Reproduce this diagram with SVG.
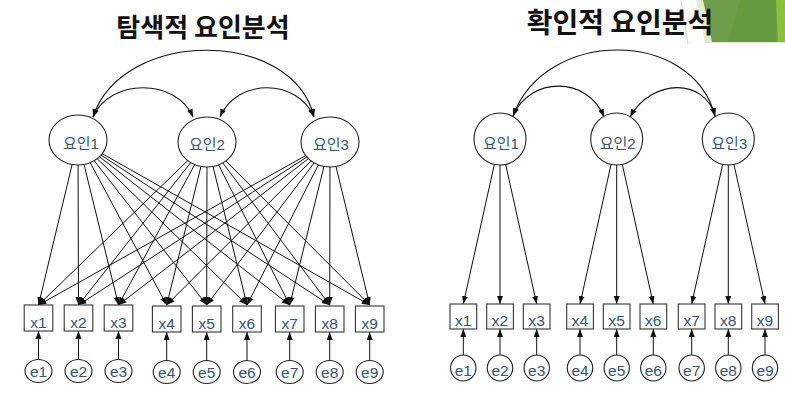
<svg xmlns="http://www.w3.org/2000/svg" width="785" height="399" viewBox="0 0 785 399">
<style>
.title{font-family:"Noto Sans CJK KR","Liberation Sans",sans-serif;font-weight:bold;fill:#111;text-anchor:middle}
.lbl{font-family:"Liberation Sans","Noto Sans CJK KR",sans-serif;font-size:15.5px;fill:#3a5275;text-anchor:middle}
.fl{font-family:"Liberation Sans","Noto Sans CJK KR",sans-serif;font-size:15px;fill:#3a5275;text-anchor:middle}
.node{fill:#fff;stroke:#222;stroke-width:1.1}
.box{fill:#fff;stroke:#333;stroke-width:1.1}
.con{fill:none;stroke:#111;stroke-width:1}
.arc{fill:none;stroke:#111;stroke-width:1.1}
</style>
<defs>
<marker id="ah" viewBox="0 0 8 6" refX="8" refY="3" markerWidth="8" markerHeight="6.5" markerUnits="userSpaceOnUse" orient="auto-start-reverse">
<path d="M0,0 L8,3 L0,6 z" fill="#111"/>
</marker>
</defs>
<rect width="785" height="399" fill="#fff"/>
<g id="decor">
<line x1="681" y1="0" x2="688" y2="44" stroke="#c8c8c8" stroke-width="0.8"/>
<polygon points="696,0 785,0 785,43 705,43" fill="#e2ebcf"/>
<polygon points="703,0 785,0 785,42 712,42" fill="#6f9d4c"/>
<polygon points="740,0 776,0 776,42 728,42" fill="#669a3f"/>
<polygon points="776,0 785,0 785,42 778,42" fill="#8cbf3a"/>
</g>
<text class="title" x="203" y="37" font-size="26">탐색적 요인분석</text>
<text class="title" x="620" y="33" font-size="28">확인적 요인분석</text>
<g id="connectors">
<g class="con">
<line x1="78" y1="140" x2="38.5" y2="305" marker-end="url(#ah)"/>
<line x1="78" y1="140" x2="78.5" y2="305" marker-end="url(#ah)"/>
<line x1="78" y1="140" x2="118.5" y2="305" marker-end="url(#ah)"/>
<line x1="78" y1="140" x2="166.7" y2="305" marker-end="url(#ah)"/>
<line x1="78" y1="140" x2="206.7" y2="305" marker-end="url(#ah)"/>
<line x1="78" y1="140" x2="247" y2="305" marker-end="url(#ah)"/>
<line x1="78" y1="140" x2="289.7" y2="305" marker-end="url(#ah)"/>
<line x1="78" y1="140" x2="329.7" y2="305" marker-end="url(#ah)"/>
<line x1="78" y1="140" x2="369.7" y2="305" marker-end="url(#ah)"/>
<line x1="207" y1="142" x2="38.5" y2="305" marker-end="url(#ah)"/>
<line x1="207" y1="142" x2="78.5" y2="305" marker-end="url(#ah)"/>
<line x1="207" y1="142" x2="118.5" y2="305" marker-end="url(#ah)"/>
<line x1="207" y1="142" x2="166.7" y2="305" marker-end="url(#ah)"/>
<line x1="207" y1="142" x2="206.7" y2="305" marker-end="url(#ah)"/>
<line x1="207" y1="142" x2="247" y2="305" marker-end="url(#ah)"/>
<line x1="207" y1="142" x2="289.7" y2="305" marker-end="url(#ah)"/>
<line x1="207" y1="142" x2="329.7" y2="305" marker-end="url(#ah)"/>
<line x1="207" y1="142" x2="369.7" y2="305" marker-end="url(#ah)"/>
<line x1="330" y1="142" x2="38.5" y2="305" marker-end="url(#ah)"/>
<line x1="330" y1="142" x2="78.5" y2="305" marker-end="url(#ah)"/>
<line x1="330" y1="142" x2="118.5" y2="305" marker-end="url(#ah)"/>
<line x1="330" y1="142" x2="166.7" y2="305" marker-end="url(#ah)"/>
<line x1="330" y1="142" x2="206.7" y2="305" marker-end="url(#ah)"/>
<line x1="330" y1="142" x2="247" y2="305" marker-end="url(#ah)"/>
<line x1="330" y1="142" x2="289.7" y2="305" marker-end="url(#ah)"/>
<line x1="330" y1="142" x2="329.7" y2="305" marker-end="url(#ah)"/>
<line x1="330" y1="142" x2="369.7" y2="305" marker-end="url(#ah)"/>
<line x1="38.5" y1="371" x2="38.5" y2="331" marker-end="url(#ah)"/>
<line x1="78.5" y1="371" x2="78.5" y2="331" marker-end="url(#ah)"/>
<line x1="118.5" y1="371" x2="118.5" y2="331" marker-end="url(#ah)"/>
<line x1="166.7" y1="371" x2="166.7" y2="332" marker-end="url(#ah)"/>
<line x1="206.7" y1="371" x2="206.7" y2="332" marker-end="url(#ah)"/>
<line x1="247" y1="371" x2="247" y2="332" marker-end="url(#ah)"/>
<line x1="289.7" y1="371" x2="289.7" y2="332" marker-end="url(#ah)"/>
<line x1="329.7" y1="371" x2="329.7" y2="332" marker-end="url(#ah)"/>
<line x1="369.7" y1="371" x2="369.7" y2="332" marker-end="url(#ah)"/>
<line x1="500" y1="139" x2="463.3" y2="304" marker-end="url(#ah)"/>
<line x1="500" y1="139" x2="500" y2="304" marker-end="url(#ah)"/>
<line x1="500" y1="139" x2="536.7" y2="304" marker-end="url(#ah)"/>
<line x1="616.7" y1="139" x2="580" y2="304" marker-end="url(#ah)"/>
<line x1="616.7" y1="139" x2="616.7" y2="304" marker-end="url(#ah)"/>
<line x1="616.7" y1="139" x2="653.3" y2="304" marker-end="url(#ah)"/>
<line x1="728.3" y1="139" x2="691.7" y2="304" marker-end="url(#ah)"/>
<line x1="728.3" y1="139" x2="728.3" y2="304" marker-end="url(#ah)"/>
<line x1="728.3" y1="139" x2="765" y2="304" marker-end="url(#ah)"/>
<line x1="463.3" y1="368" x2="463.3" y2="329" marker-end="url(#ah)"/>
<line x1="500" y1="368" x2="500" y2="329" marker-end="url(#ah)"/>
<line x1="536.7" y1="368" x2="536.7" y2="329" marker-end="url(#ah)"/>
<line x1="580" y1="368" x2="580" y2="329" marker-end="url(#ah)"/>
<line x1="616.7" y1="368" x2="616.7" y2="329" marker-end="url(#ah)"/>
<line x1="653.3" y1="368" x2="653.3" y2="329" marker-end="url(#ah)"/>
<line x1="691.7" y1="368" x2="691.7" y2="329" marker-end="url(#ah)"/>
<line x1="728.3" y1="368" x2="728.3" y2="329" marker-end="url(#ah)"/>
<line x1="765" y1="368" x2="765" y2="329" marker-end="url(#ah)"/>
</g>
<g class="arc">
<path d="M93,117 C122,28 293,28 314,117" marker-start="url(#ah)" marker-end="url(#ah)"/>
<path d="M93,117 C110,78 176,78 193,117" marker-start="url(#ah)" marker-end="url(#ah)"/>
<path d="M220,117 C237,78 297,78 314,117" marker-start="url(#ah)" marker-end="url(#ah)"/>
<path d="M513,116 C545,28 692,28 715,116" marker-start="url(#ah)" marker-end="url(#ah)"/>
<path d="M513,116 C530,76 588,76 604,117" marker-start="url(#ah)" marker-end="url(#ah)"/>
<path d="M630,117 C652,78 705,78 715,116" marker-start="url(#ah)" marker-end="url(#ah)"/>
</g>
</g>
<g id="L_F1"><ellipse class="node" cx="78" cy="140" rx="29" ry="25"/><text class="fl" x="81" y="149">요인1</text></g>
<g id="L_F2"><ellipse class="node" cx="207" cy="142" rx="29" ry="25"/><text class="fl" x="207" y="150">요인2</text></g>
<g id="L_F3"><ellipse class="node" cx="330" cy="142" rx="29" ry="25"/><text class="fl" x="331" y="150">요인3</text></g>
<g id="L_x1"><rect class="box" x="24.2" y="305" width="28.6" height="26"/><text class="lbl" x="38.5" y="328">x1</text></g>
<g id="L_x2"><rect class="box" x="64.2" y="305" width="28.6" height="26"/><text class="lbl" x="78.5" y="328">x2</text></g>
<g id="L_x3"><rect class="box" x="104.2" y="305" width="28.6" height="26"/><text class="lbl" x="118.5" y="328">x3</text></g>
<g id="L_x4"><rect class="box" x="152.4" y="306" width="28.6" height="26"/><text class="lbl" x="166.7" y="329">x4</text></g>
<g id="L_x5"><rect class="box" x="192.4" y="306" width="28.6" height="26"/><text class="lbl" x="206.7" y="329">x5</text></g>
<g id="L_x6"><rect class="box" x="232.7" y="306" width="28.6" height="26"/><text class="lbl" x="247" y="329">x6</text></g>
<g id="L_x7"><rect class="box" x="275.4" y="306" width="28.6" height="26"/><text class="lbl" x="289.7" y="329">x7</text></g>
<g id="L_x8"><rect class="box" x="315.4" y="306" width="28.6" height="26"/><text class="lbl" x="329.7" y="329">x8</text></g>
<g id="L_x9"><rect class="box" x="355.4" y="306" width="28.6" height="26"/><text class="lbl" x="369.7" y="329">x9</text></g>
<g id="L_e1"><ellipse class="node" cx="38.5" cy="371" rx="13.5" ry="11.5"/><text class="lbl" x="38.5" y="377">e1</text></g>
<g id="L_e2"><ellipse class="node" cx="78.5" cy="371" rx="13.5" ry="11.5"/><text class="lbl" x="78.5" y="377">e2</text></g>
<g id="L_e3"><ellipse class="node" cx="118.5" cy="371" rx="13.5" ry="11.5"/><text class="lbl" x="118.5" y="377">e3</text></g>
<g id="L_e4"><ellipse class="node" cx="166.7" cy="372" rx="13.5" ry="11.5"/><text class="lbl" x="166.7" y="378">e4</text></g>
<g id="L_e5"><ellipse class="node" cx="206.7" cy="372" rx="13.5" ry="11.5"/><text class="lbl" x="206.7" y="378">e5</text></g>
<g id="L_e6"><ellipse class="node" cx="247" cy="372" rx="13.5" ry="11.5"/><text class="lbl" x="247" y="378">e6</text></g>
<g id="L_e7"><ellipse class="node" cx="289.7" cy="372" rx="13.5" ry="11.5"/><text class="lbl" x="289.7" y="378">e7</text></g>
<g id="L_e8"><ellipse class="node" cx="329.7" cy="372" rx="13.5" ry="11.5"/><text class="lbl" x="329.7" y="378">e8</text></g>
<g id="L_e9"><ellipse class="node" cx="369.7" cy="372" rx="13.5" ry="11.5"/><text class="lbl" x="369.7" y="378">e9</text></g>
<g id="R_F1"><circle class="node" cx="500" cy="139" r="26"/><text class="fl" x="501" y="149">요인1</text></g>
<g id="R_F2"><circle class="node" cx="616.7" cy="139" r="26"/><text class="fl" x="617.7" y="149">요인2</text></g>
<g id="R_F3"><circle class="node" cx="728.3" cy="139" r="26"/><text class="fl" x="729.3" y="149">요인3</text></g>
<g id="R_x1"><rect class="box" x="450" y="304" width="26.7" height="25"/><text class="lbl" x="463.3" y="326">x1</text></g>
<g id="R_x2"><rect class="box" x="486.7" y="304" width="26.7" height="25"/><text class="lbl" x="500" y="326">x2</text></g>
<g id="R_x3"><rect class="box" x="523.3" y="304" width="26.7" height="25"/><text class="lbl" x="536.7" y="326">x3</text></g>
<g id="R_x4"><rect class="box" x="566.7" y="304" width="26.7" height="25"/><text class="lbl" x="580" y="326">x4</text></g>
<g id="R_x5"><rect class="box" x="603.3" y="304" width="26.7" height="25"/><text class="lbl" x="616.7" y="326">x5</text></g>
<g id="R_x6"><rect class="box" x="640" y="304" width="26.7" height="25"/><text class="lbl" x="653.3" y="326">x6</text></g>
<g id="R_x7"><rect class="box" x="678.3" y="304" width="26.7" height="25"/><text class="lbl" x="691.7" y="326">x7</text></g>
<g id="R_x8"><rect class="box" x="715" y="304" width="26.7" height="25"/><text class="lbl" x="728.3" y="326">x8</text></g>
<g id="R_x9"><rect class="box" x="751.7" y="304" width="26.7" height="25"/><text class="lbl" x="765" y="326">x9</text></g>
<g id="R_e1"><ellipse class="node" cx="463.3" cy="368" rx="12.7" ry="13"/><text class="lbl" x="463.3" y="376">e1</text></g>
<g id="R_e2"><ellipse class="node" cx="500" cy="368" rx="12.7" ry="13"/><text class="lbl" x="500" y="376">e2</text></g>
<g id="R_e3"><ellipse class="node" cx="536.7" cy="368" rx="12.7" ry="13"/><text class="lbl" x="536.7" y="376">e3</text></g>
<g id="R_e4"><ellipse class="node" cx="580" cy="368" rx="12.7" ry="13"/><text class="lbl" x="580" y="376">e4</text></g>
<g id="R_e5"><ellipse class="node" cx="616.7" cy="368" rx="12.7" ry="13"/><text class="lbl" x="616.7" y="376">e5</text></g>
<g id="R_e6"><ellipse class="node" cx="653.3" cy="368" rx="12.7" ry="13"/><text class="lbl" x="653.3" y="376">e6</text></g>
<g id="R_e7"><ellipse class="node" cx="691.7" cy="368" rx="12.7" ry="13"/><text class="lbl" x="691.7" y="376">e7</text></g>
<g id="R_e8"><ellipse class="node" cx="728.3" cy="368" rx="12.7" ry="13"/><text class="lbl" x="728.3" y="376">e8</text></g>
<g id="R_e9"><ellipse class="node" cx="765" cy="368" rx="12.7" ry="13"/><text class="lbl" x="765" y="376">e9</text></g>
</svg>
